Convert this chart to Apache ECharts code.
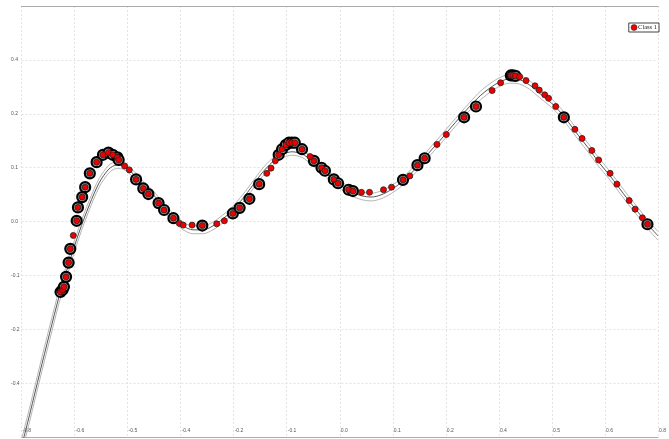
<!DOCTYPE html>
<html>
<head>
<meta charset="utf-8">
<script src="https://cdn.jsdelivr.net/npm/echarts@6/dist/echarts.min.js"></script>
<style>
html,body{margin:0;padding:0;background:#fff;}
#chart{width:669px;height:439px;}
</style>
</head>
<body>
<div id="chart"></div>
<script>
// ---- Data ----
const xTickLabels = ["-0.8","-0.6","-0.5","-0.4","-0.2","-0.1","0.0","0.1","0.2","0.4","0.5","0.6","0.8"];
const yTickLabels = ["-0.5","-0.4","-0.2","-0.1","0.0","0.1","0.2","0.4","0.5"];

// GP mean curve samples
const curveX = [-0.750,-0.730,-0.707,-0.684,-0.661,-0.637,-0.614,-0.590,-0.567,-0.544,-0.526,-0.509,-0.486,-0.462,-0.439,-0.416,-0.392,-0.369,-0.346,-0.322,-0.299,-0.276,-0.252,-0.229,-0.206,-0.183,-0.159,-0.136,-0.113,-0.089,-0.066,-0.043,-0.019,0.004,0.027,0.051,0.074,0.097,0.121,0.144,0.167,0.191,0.214,0.237,0.261,0.284,0.307,0.331,0.354,0.377,0.400,0.424,0.447,0.470,0.493,0.517,0.540,0.563,0.587,0.610,0.633,0.657,0.680,0.703,0.727,0.750];
const curveMean = [-0.522,-0.444,-0.351,-0.260,-0.172,-0.093,-0.024,0.039,0.090,0.122,0.131,0.129,0.110,0.083,0.062,0.034,0.009,-0.010,-0.019,-0.019,-0.010,0.006,0.027,0.053,0.083,0.113,0.138,0.155,0.162,0.157,0.141,0.122,0.101,0.083,0.069,0.060,0.057,0.062,0.074,0.090,0.111,0.136,0.164,0.189,0.217,0.243,0.268,0.292,0.310,0.324,0.331,0.329,0.317,0.298,0.280,0.257,0.229,0.199,0.169,0.138,0.111,0.080,0.050,0.022,-0.008,-0.033];
// half width of the confidence band at each sample
const curveBand = [0.016,0.016,0.016,0.016,0.015,0.014,0.012,0.011,0.010,0.009,0.008,0.008,0.008,0.009,0.009,0.009,0.009,0.009,0.009,0.009,0.009,0.009,0.009,0.009,0.009,0.009,0.009,0.008,0.008,0.008,0.009,0.009,0.009,0.009,0.009,0.009,0.009,0.009,0.009,0.009,0.009,0.009,0.009,0.009,0.009,0.009,0.009,0.010,0.010,0.010,0.010,0.010,0.010,0.010,0.010,0.010,0.010,0.010,0.010,0.010,0.010,0.010,0.010,0.010,0.010,0.010];

// Points with a black ring (x, y)
const ringX = [-0.658,-0.653,-0.650,-0.645,-0.639,-0.635,-0.620,-0.617,-0.607,-0.600,-0.589,-0.573,-0.558,-0.545,-0.535,-0.524,-0.521,-0.480,-0.463,-0.451,-0.427,-0.414,-0.392,-0.324,-0.252,-0.236,-0.213,-0.190,-0.144,-0.136,-0.127,-0.120,-0.113,-0.106,-0.089,-0.061,-0.043,-0.035,-0.014,-0.004,0.021,0.031,0.149,0.183,0.200,0.293,0.321,0.403,0.408,0.414,0.528,0.725];
const ringY = [-0.163,-0.158,-0.151,-0.128,-0.095,-0.063,0.002,0.033,0.057,0.080,0.112,0.138,0.155,0.160,0.155,0.149,0.143,0.098,0.077,0.064,0.043,0.027,0.008,-0.009,0.019,0.032,0.053,0.087,0.155,0.168,0.178,0.183,0.183,0.183,0.168,0.141,0.125,0.118,0.098,0.089,0.074,0.071,0.097,0.131,0.147,0.242,0.267,0.339,0.339,0.338,0.242,-0.006];

// Plain red points (x, y)
const dotX = [-0.628,-0.507,-0.496,-0.378,-0.369,-0.348,-0.290,-0.272,-0.172,-0.162,-0.152,-0.070,0.051,0.070,0.103,0.122,0.165,0.229,0.251,0.359,0.379,0.424,0.439,0.460,0.470,0.483,0.492,0.509,0.554,0.571,0.594,0.610,0.637,0.653,0.682,0.696,0.713];
const dotY = [-0.032,0.129,0.120,-0.004,-0.008,-0.008,-0.005,0.002,0.112,0.124,0.141,0.151,0.068,0.068,0.074,0.080,0.106,0.179,0.202,0.304,0.322,0.336,0.327,0.315,0.305,0.294,0.286,0.267,0.214,0.193,0.165,0.143,0.112,0.087,0.049,0.029,0.009];

// ---- Build series data ----
const meanData = curveX.map((x, i) => [x, curveMean[i]]);
const upperData = curveX.map((x, i) => [x, curveMean[i] + curveBand[i]]);
const lowerData = curveX.map((x, i) => [x, curveMean[i] - curveBand[i]]);
const ringData = ringX.map((x, i) => [x, ringY[i]]);
const redData = ringData.concat(dotX.map((x, i) => [x, dotY[i]]));

const X_MIN = -0.75, X_MAX = 0.75, X_STEP = 0.125;
const Y_MIN = -0.5, Y_MAX = 0.5, Y_STEP = 0.125;

const chart = echarts.init(document.getElementById('chart'), null, {renderer: 'canvas'});
const gridLine = {show: true, lineStyle: {color: '#e3e3e3', width: 1, type: [2, 2]}};
const labelFont = {fontSize: 5, color: '#555', fontFamily: 'Liberation Sans, Arial, sans-serif'};

chart.setOption({
  animation: false,
  backgroundColor: '#fff',
  grid: {left: 21.5, right: 4, top: 6, bottom: 1.7, containLabel: false},
  legend: {
    data: ['Class 1'],
    right: 10, top: 23,
    orient: 'vertical',
    icon: 'circle',
    itemWidth: 6, itemHeight: 6, itemGap: 2,
    padding: [1, 2, 1, 2],
    borderColor: '#444', borderWidth: 1, borderRadius: 0,
    itemStyle: {color: '#ee0000', borderColor: '#222', borderWidth: 0.5},
    textStyle: {fontSize: 6.5, color: '#222', fontFamily: 'Liberation Serif, serif', padding: [0, 0, 0, -4]}
  },
  xAxis: [{
    type: 'value', min: X_MIN, max: X_MAX, interval: X_STEP, position: 'bottom',
    axisLine: {show: true, onZero: false, lineStyle: {color: '#aaa', width: 1}},
    axisTick: {show: false},
    splitLine: gridLine,
    axisLabel: Object.assign({
      inside: true, margin: 7, align: 'left', verticalAlign: 'middle', padding: [0, 0, 0, 1],
      showMinLabel: true, showMaxLabel: true,
      formatter: v => xTickLabels[Math.round((v - X_MIN) / X_STEP)]
    }, labelFont)
  }, {
    type: 'value', min: X_MIN, max: X_MAX, interval: X_STEP, position: 'top',
    axisLine: {show: true, onZero: false, lineStyle: {color: '#aaa', width: 1}},
    axisTick: {show: false}, axisLabel: {show: false}, splitLine: {show: false}
  }],
  yAxis: {
    type: 'value', min: Y_MIN, max: Y_MAX, interval: Y_STEP,
    axisLine: {show: false}, axisTick: {show: false},
    splitLine: gridLine,
    axisLabel: Object.assign({
      margin: 10.5, align: 'left', verticalAlign: 'middle',
      showMinLabel: false, showMaxLabel: false,
      formatter: v => yTickLabels[Math.round((v - Y_MIN) / Y_STEP)]
    }, labelFont)
  },
  series: [
    {type: 'line', name: 'upper', data: upperData, smooth: 0.3, showSymbol: false, silent: true,
     lineStyle: {color: '#b4b4b4', width: 1}, z: 1},
    {type: 'line', name: 'lower', data: lowerData, smooth: 0.3, showSymbol: false, silent: true,
     lineStyle: {color: '#b4b4b4', width: 1}, z: 1},
    {type: 'line', name: 'mean', data: meanData, smooth: 0.3, showSymbol: false, silent: true,
     lineStyle: {color: '#555', width: 1}, z: 2},
    {type: 'scatter', name: 'ring', data: ringData, symbol: 'circle', symbolSize: 10,
     itemStyle: {color: '#a8a8a8', borderColor: '#000', borderWidth: 2.2, opacity: 1}, z: 3},
    {type: 'scatter', name: 'Class 1', data: redData, symbol: 'circle', symbolSize: 6,
     itemStyle: {color: '#ee0000', borderColor: '#222', borderWidth: 0.8, opacity: 1}, z: 4}
  ]
});
</script>
</body>
</html>
